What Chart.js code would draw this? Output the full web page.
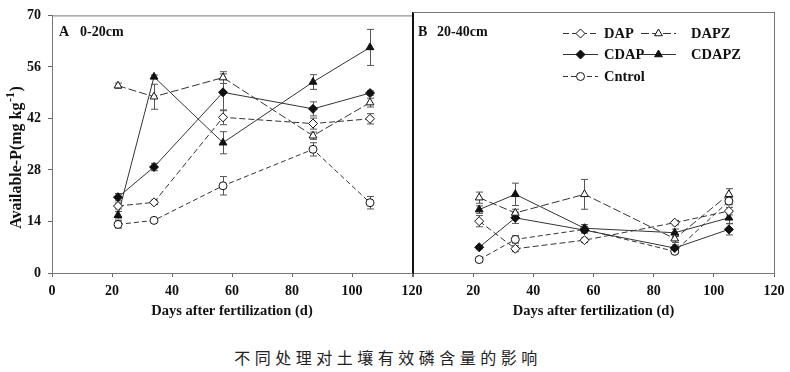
<!DOCTYPE html>
<html>
<head>
<meta charset="utf-8">
<script src="https://cdn.jsdelivr.net/npm/chart.js@4.4.1/dist/chart.umd.min.js"></script>
<style>
    body { margin: 0; background: #fff; width: 790px; height: 372px; overflow: hidden; position: relative; }
    canvas { position: absolute; top: 0; }
    #chartA { left: 0; }
    #chartB { left: 392px; }
    #caption {
        position: absolute; left: 0; top: 345px; width: 776px; text-align: center;
        font-family: "Noto Sans CJK SC", sans-serif; font-size: 16px; letter-spacing: 4.5px; color: #222;
    }
</style>
</head>
<body>
<canvas id="chartA" width="432" height="330"></canvas>
<canvas id="chartB" width="402" height="330"></canvas>
<div id="caption">不同处理对土壤有效磷含量的影响</div>
<script>
// DATA
const seriesNames = ["DAP", "DAPZ", "CDAP", "CDAPZ", "Cntrol"];
const daysA = [22, 34, 57, 87, 106];
const daysB = [22, 34, 57, 87, 105];
const xTicks = [0, 20, 40, 60, 80, 100, 120];
const yTicks = [0, 14, 28, 42, 56, 70];

// A 0-20cm
const dapA = [18.2, 19.2, 42.3, 40.6, 41.9];
const dapzA = [50.9, 47.9, 53.1, 37.3, 46.3];
const cdapA = [20.6, 28.8, 49.1, 44.6, 48.9];
const cdapzA = [15.7, 53.3, 35.4, 51.9, 61.3];
const ctrlA = [13.2, 14.3, 23.7, 33.6, 19.1];
const dapErrA = [0.8, 0.6, 2.0, 1.5, 1.4];
const dapzErrA = [0.7, 3.4, 1.6, 1.0, 1.2];
const cdapErrA = [1.0, 1.0, 5.0, 1.9, 0.6];
const cdapzErrA = [1.0, 0.5, 3.0, 2.0, 4.9];
const ctrlErrA = [1.0, 0.4, 2.5, 1.8, 1.7];

// B 20-40cm
const dapB = [13.9, 6.5, 8.8, 13.5, 16.6];
const dapzB = [20.2, 16.1, 21.1, 9.2, 21.1];
const cdapB = [6.9, 14.8, 11.5, 6.7, 11.7];
const cdapzB = [17.0, 21.1, 12.0, 10.8, 14.8];
const ctrlB = [3.6, 9.0, 11.7, 5.8, 19.3];
const dapErrB = [1.5, 0.8, 0.6, 0.6, 1.0];
const dapzErrB = [1.5, 1.0, 4.0, 1.0, 1.5];
const cdapErrB = [0.4, 1.5, 0.8, 0.8, 1.5];
const cdapzErrB = [1.0, 3.0, 1.0, 1.0, 1.5];
const ctrlErrB = [0.5, 1.0, 0.6, 0.5, 1.0];
// DATA

const serif = "'Liberation Serif', 'Times New Roman', serif";

// STYLES FOR EACH SERIES
const seriesStyle = [
    { pointStyle: "rectRot", fill: "#fff", dash: [6, 3], radius: 4.5 },
    { pointStyle: "triangle", fill: "#fff", dash: [8, 3], radius: 4.5 },
    { pointStyle: "rectRot", fill: "#111", dash: [], radius: 4.5 },
    { pointStyle: "triangle", fill: "#111", dash: [], radius: 4.5 },
    { pointStyle: "circle", fill: "#fff", dash: [5, 3], radius: 4 },
];

function makeDatasets(days, values, errors) {
    return values.map(function (vals, s) {
        const st = seriesStyle[s];
        return {
            label: seriesNames[s],
            data: days.map(function (d, i) { return { x: d, y: vals[i] }; }),
            err: errors[s],
            borderColor: "#333",
            borderWidth: 1,
            borderDash: st.dash,
            pointStyle: st.pointStyle,
            pointRadius: st.radius,
            pointBackgroundColor: st.fill,
            pointBorderColor: "#111",
            pointBorderWidth: 1,
            tension: 0,
            fill: false,
        };
    });
}

// ERROR BARS
const errorBars = {
    id: "errorBars",
    beforeDatasetsDraw(chart) {
        const ctx = chart.ctx;
        const xs = chart.scales.x, ys = chart.scales.y;
        ctx.save();
        ctx.strokeStyle = "#555";
        ctx.lineWidth = 1;
        chart.data.datasets.forEach(function (ds) {
            ds.data.forEach(function (p, i) {
                const e = ds.err[i];
                if (!e) return;
                const px = Math.round(xs.getPixelForValue(p.x)) + 0.5;
                const top = ys.getPixelForValue(p.y + e);
                const bot = ys.getPixelForValue(p.y - e);
                ctx.beginPath();
                ctx.moveTo(px, top); ctx.lineTo(px, bot);
                ctx.moveTo(px - 3.5, top); ctx.lineTo(px + 3.5, top);
                ctx.moveTo(px - 3.5, bot); ctx.lineTo(px + 3.5, bot);
                ctx.stroke();
            });
        });
        ctx.restore();
    },
};
// ERROR BARS

// FRAME, PANEL LABELS, TITLES, LEGEND
const decor = {
    id: "decor",
    afterDraw(chart, args, opts) {
        const ctx = chart.ctx;
        const a = chart.chartArea;
        ctx.save();
        // frame
        ctx.strokeStyle = "#777";
        ctx.lineWidth = 1;
        ctx.beginPath();
        ctx.moveTo(a.left, a.top + 0.5); ctx.lineTo(a.right, a.top + 0.5);
        ctx.stroke();
        if (opts.side === "left") {
            ctx.strokeStyle = "#111";
            ctx.beginPath();
            ctx.moveTo(a.right + 0.5, a.top); ctx.lineTo(a.right + 0.5, a.bottom);
            ctx.stroke();
        } else {
            ctx.strokeStyle = "#111";
            ctx.beginPath();
            ctx.moveTo(a.left - 0.5, a.top); ctx.lineTo(a.left - 0.5, a.bottom);
            ctx.stroke();
            ctx.strokeStyle = "#777";
            ctx.beginPath();
            ctx.moveTo(a.right + 0.5, a.top); ctx.lineTo(a.right + 0.5, a.bottom);
            ctx.stroke();
        }

        // panel label
        ctx.fillStyle = "#111";
        ctx.font = "bold 14px " + serif;
        ctx.textBaseline = "middle";
        ctx.textAlign = "left";
        ctx.fillText(opts.letter, a.left + opts.letterDx, 32);
        ctx.fillText(opts.depth, a.left + opts.depthDx, 32);

        // x title
        ctx.font = "bold 14.5px " + serif;
        ctx.textAlign = "center";
        ctx.fillText("Days after fertilization (d)", (a.left + a.right) / 2, 311);

        // y title with superscript
        if (opts.side === "left") {
            ctx.save();
            ctx.translate(17, 158);
            ctx.rotate(-Math.PI / 2);
            ctx.textAlign = "left";
            const main = "Available-P(mg kg";
            ctx.font = "bold 16px " + serif;
            const w1 = ctx.measureText(main).width;
            const w3 = ctx.measureText(")").width;
            ctx.font = "bold 12px " + serif;
            const w2 = ctx.measureText("-1").width;
            const x0 = -(w1 + w2 + w3) / 2;
            ctx.font = "bold 16px " + serif;
            ctx.fillText(main, x0, 0);
            ctx.font = "bold 12px " + serif;
            ctx.fillText("-1", x0 + w1 + 0.5, -6);
            ctx.font = "bold 16px " + serif;
            ctx.fillText(")", x0 + w1 + w2 + 1, 0);
            ctx.restore();
        }

        // legend
        if (opts.legend) {
            const ox = -chart.canvas.offsetLeft;
            const rows = [
                [0, 563, 33], [1, 641, 33],
                [2, 563, 54], [3, 641, 54],
                [4, 563, 76],
            ];
            rows.forEach(function (r) {
                const ds = chart.data.datasets[r[0]];
                const x = r[1] + ox, y = r[2];
                ctx.strokeStyle = "#333";
                ctx.lineWidth = 1;
                ctx.setLineDash(ds.borderDash);
                ctx.beginPath();
                ctx.moveTo(x, y + 0.5); ctx.lineTo(x + 35, y + 0.5);
                ctx.stroke();
                ctx.setLineDash([]);
                ctx.fillStyle = ds.pointBackgroundColor;
                ctx.strokeStyle = "#111";
                Chart.helpers.drawPoint(ctx, {
                    pointStyle: ds.pointStyle,
                    radius: ds.pointRadius,
                    rotation: 0,
                    borderWidth: 1,
                }, x + 17.5, y + 0.5);
                ctx.fillStyle = "#111";
                ctx.font = "bold 14.5px " + serif;
                ctx.textAlign = "left";
                ctx.textBaseline = "middle";
                ctx.fillText(ds.label, x + (r[1] === 563 ? 41 : 50), y + 1);
            });
        }
        ctx.restore();
    },
};

function xAxis(hideZero) {
    return {
        type: "linear",
        min: xTicks[0],
        max: xTicks[xTicks.length - 1],
        afterBuildTicks: function (s) { s.ticks = xTicks.map(function (v) { return { value: v }; }); },
        afterFit: function (s) { s.height = 57; },
        ticks: {
            color: "#111",
            font: { family: serif, size: 14, weight: "bold" },
            padding: 6,
            maxRotation: 0,
            callback: function (v) { return hideZero && v === 0 ? "" : v; },
        },
        grid: { drawOnChartArea: false, drawTicks: true, tickLength: 4, color: "#666" },
        border: { color: "#777" },
    };
}

function yAxis(show) {
    return {
        min: yTicks[0],
        max: yTicks[yTicks.length - 1],
        afterBuildTicks: function (s) { s.ticks = yTicks.map(function (v) { return { value: v }; }); },
        afterFit: function (s) { s.width = show ? 52 : 1; },
        ticks: {
            display: show,
            color: "#111",
            font: { family: serif, size: 14, weight: "bold" },
            padding: 7,
        },
        grid: { drawOnChartArea: false, drawTicks: show, tickLength: 4, color: "#666" },
        border: { color: show ? "#777" : "#111" },
    };
}

function panel(id, days, values, errors, side) {
    const ctx = document.getElementById(id).getContext("2d");
    return new Chart(ctx, {
        type: "line",
        data: { datasets: makeDatasets(days, values, errors) },
        options: {
            responsive: false,
            animation: false,
            devicePixelRatio: 1,
            layout: side === "left"
                ? { padding: { left: 0, top: 12, right: 20, bottom: 0 } }
                : { padding: { left: 20, top: 12, right: 20, bottom: 0 } },
            scales: { x: xAxis(side === "right"), y: yAxis(side === "left") },
            plugins: {
                legend: { display: false },
                tooltip: { enabled: false },
                decor: side === "left"
                    ? { side: "left", letter: "A", depth: "0-20cm", letterDx: 7, depthDx: 28, legend: false }
                    : { side: "right", letter: "B", depth: "20-40cm", letterDx: 5, depthDx: 24, legend: true },
            },
        },
        plugins: [errorBars, decor],
    });
}

panel("chartA", daysA,
    [dapA, dapzA, cdapA, cdapzA, ctrlA],
    [dapErrA, dapzErrA, cdapErrA, cdapzErrA, ctrlErrA], "left");
panel("chartB", daysB,
    [dapB, dapzB, cdapB, cdapzB, ctrlB],
    [dapErrB, dapzErrB, cdapErrB, cdapzErrB, ctrlErrB], "right");
</script>
</body>
</html>
